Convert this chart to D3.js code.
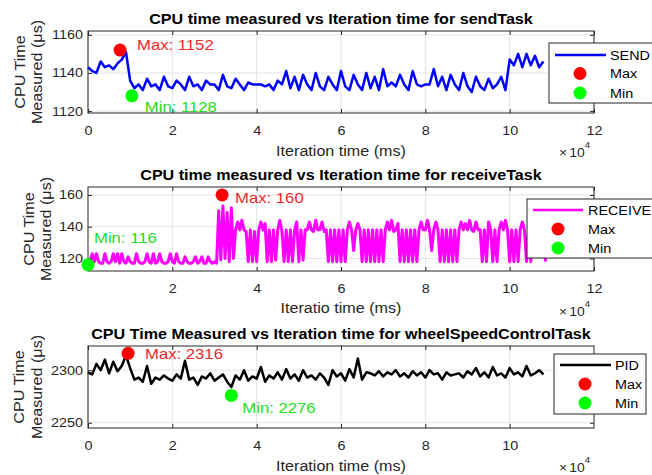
<!DOCTYPE html>
<head>
  <meta charset="utf-8">
  <script src="https://d3js.org/d3.v7.min.js"></script>
  <style>
body {
	margin: 0;
	background: #fff;
	}
text {
	font-family: "Liberation Sans", Arial, sans-serif;
	fill: #262626;
	}
.title {
	font-size: 14px;
	font-weight: bold;
	fill: #000;
	}
.tick text {
	font-size: 12.5px;
	}
.expo {
	font-size: 13px;
	}
.label {
	font-size: 14px;
	}
.note {
	font-size: 14.5px;
	}
.legText {
	font-size: 12.5px;
	fill: #000;
	}
  </style>
</head>

<body>
  <div id="graph"></div>
<script>
// Tick labels (x ticks are in units of 10^4 ms)
var sendXTicks = [0, 2, 4, 6, 8, 10, 12];
var receiveXTicks = [2, 4, 6, 8, 10, 12];
var pidXTicks = [0, 2, 4, 6, 8, 10];
var sendYTicks = [1120, 1140, 1160];
var receiveYTicks = [120, 140, 160];
var pidYTicks = [2250, 2300];

// CPU time measured (us), one sample every <step> ms of iteration time
var sendStep = 1000;
var sendValues = [
  1143, 1141, 1140, 1146, 1143, 1144, 1142, 1145, 1147, 1151,
  1136, 1132,
  1134, 1131, 1137, 1133, 1134, 1131, 1138, 1133, 1132, 1136,
  1134, 1131, 1138, 1133, 1134, 1131, 1136, 1134, 1134, 1131,
  1139, 1133, 1132, 1137, 1134, 1131, 1135, 1134, 1134, 1134,
  1133, 1134, 1131, 1136,
  1134, 1141, 1132, 1138, 1131, 1139, 1134, 1131, 1140, 1133,
  1131, 1138, 1134, 1131,
  1141, 1133, 1131, 1139, 1134, 1131, 1140, 1132, 1138, 1131,
  1142, 1133, 1135, 1133, 1139, 1134, 1131, 1141, 1134, 1133,
  1134, 1134, 1142, 1133, 1138, 1131, 1139, 1134, 1131, 1140,
  1133, 1130, 1138, 1133, 1131, 1137, 1132, 1134, 1138, 1131,
  1147, 1144, 1150, 1143, 1150, 1144, 1149, 1143, 1146
];

var receiveStep = 500;
var receiveValues = [
  116, 118, 123, 118, 123, 118, 117, 117, 123, 118,
  117, 118, 123, 118, 123, 117, 123, 118, 117, 121,
  118, 117, 117, 123, 118, 117, 117, 118, 123, 118,
  117, 123, 117, 118, 123, 118, 117, 117, 118, 123,
  118, 117, 123, 118, 117, 117, 121, 118, 117, 117,
  118, 121, 117, 118, 121, 117, 117, 121, 118, 117,
  118, 117,
  150, 119, 153, 120, 149, 118, 152, 120,
  138, 143, 138, 144, 138, 137,
  118, 138, 118, 137, 118,
  138, 143, 138, 142,
  118, 138, 118, 138, 119,
  138, 144, 137,
  118, 138, 118, 138, 118,
  138, 143,
  118, 138, 119, 138,
  138, 143, 138, 137, 144, 138, 138, 143, 137, 138,
  118, 138, 118, 138, 118, 138, 118, 138, 118,
  138, 143, 138, 125, 138, 142, 138,
  118, 138, 118, 138, 118, 138, 118, 138, 118, 138, 118, 138,
  143, 138, 144, 137, 138, 142,
  118, 138, 118, 138, 118, 138, 118, 138, 118, 138,
  143, 138, 138, 144, 138, 125, 138, 143, 138,
  118, 138, 118, 138, 118, 138, 118, 138, 118, 138,
  143, 138, 142, 138, 144, 138, 137, 143, 138, 138,
  118, 138, 118,
  143, 138,
  118, 138, 118, 138,
  143, 138, 144, 138,
  118, 138, 118, 138, 118, 138,
  143, 138,
  118, 138, 118,
  138, 142, 138, 137, 143, 138, 118
];

var pidStep = 1000;
var pidValues = [
  2298, 2296, 2306, 2300, 2310, 2297, 2308, 2299, 2304, 2314, 2302,
  2291, 2293, 2289, 2304, 2287, 2293, 2291, 2295, 2292, 2290,
  2296, 2292, 2309, 2291, 2293, 2286, 2294, 2292, 2297, 2290,
  2293, 2296, 2289, 2284,
  2295, 2291, 2300, 2290, 2294, 2292, 2303, 2289, 2295, 2292,
  2298, 2291, 2301, 2292, 2296, 2290, 2300, 2293, 2295, 2291,
  2297, 2293,
  2286, 2300, 2294, 2297, 2290, 2301, 2293, 2311, 2291, 2298,
  2297, 2295, 2299, 2294, 2298, 2296, 2300, 2294, 2297, 2293,
  2299, 2295, 2298, 2293, 2300, 2296, 2297, 2291, 2298, 2295,
  2296, 2297, 2293, 2299, 2296, 2302, 2294, 2298, 2293, 2303,
  2295, 2297, 2293, 2302, 2296, 2298, 2294, 2304, 2295, 2297,
  2300, 2296
];

// [iteration time (ms), CPU time (us)]
var sendMax = [7600, 1152], sendMin = [10400, 1128];
var receiveMax = [31800, 160], receiveMin = [0, 116];
var pidMax = [9500, 2316], pidMin = [34000, 2276];

var width = 652, height = 475;
var left = 88, right = 594;
var stretchK = 1.15;

var panels = [
  {title: "CPU time measured vs Iteration time for sendTask", xlabel: "Iteration time (ms)",
   name: "SEND", color: "#0000ff", lineWidth: 2.5, values: sendValues, step: sendStep,
   xTicks: sendXTicks, yTicks: sendYTicks, yDomain: [1119, 1162], max: sendMax, min: sendMin,
   top: 31, bottom: 113, titleY: 24, xlabelY: 156, expY: 157, ylabelX: [25, 42],
   maxOff: [17, 0], minOff: [13, 16],
   legend: {x: 549, y: 43, w: 120, h: 60, x1: 555, x2: 606, mx: 580, tx: 610, rows: [55, 73.5, 93]}},
  {title: "CPU time measured vs Iteration time for receiveTask", xlabel: "Iteratio time (ms)",
   name: "RECEIVE", color: "#ff00ff", lineWidth: 3, values: receiveValues, step: receiveStep,
   xTicks: receiveXTicks, yTicks: receiveYTicks, yDomain: [112.1, 165], max: receiveMax, min: receiveMin,
   top: 187, bottom: 271, titleY: 180, xlabelY: 313, expY: 316, ylabelX: [34, 51],
   maxOff: [13, 8], minOff: [6, -21.5],
   legend: {x: 527, y: 199, w: 140, h: 59, x1: 533, x2: 583, mx: 558, tx: 588, rows: [210, 229, 248]}},
  {title: "CPU Time Measured vs Iteration time for wheelSpeedControlTask", xlabel: "Iteration time (ms)",
   name: "PID", color: "#000000", lineWidth: 2.5, values: pidValues, step: pidStep,
   xTicks: pidXTicks, yTicks: pidYTicks, yDomain: [2245, 2323], max: pidMax, min: pidMin,
   top: 346, bottom: 428, titleY: 339, xlabelY: 471, expY: 472, ylabelX: [24, 42],
   maxOff: [17, 5.6], minOff: [11, 18],
   legend: {x: 554, y: 354, w: 92, h: 60, x1: 560, x2: 611, mx: 585, tx: 615, rows: [365, 384, 403]}}
];

var svg = d3.select("#graph")
  .append("svg")
  .attr("width", width)
  .attr("height", height);

panels.forEach(function(p) {
  var x = d3.scaleLinear().domain([0, 120000]).range([left, right]);
  var y = d3.scaleLinear().domain(p.yDomain).range([p.bottom, p.top]);
  var g = svg.append("g");
  var xt = p.xTicks.map(function(d) { return d * 1e4; });

  // grid
  g.selectAll(".gx").data(xt).enter().append("line")
    .attr("x1", function(d) { return x(d); }).attr("x2", function(d) { return x(d); })
    .attr("y1", p.top).attr("y2", p.bottom)
    .style("stroke", "#e3e3e3");
  g.selectAll(".gy").data(p.yTicks).enter().append("line")
    .attr("x1", left).attr("x2", right)
    .attr("y1", function(d) { return y(d); }).attr("y2", function(d) { return y(d); })
    .style("stroke", "#e3e3e3");

  // the series
  var line = d3.line()
    .x(function(d, i) { return x(i * p.step); })
    .y(function(d) { return y(d); });
  g.append("path")
    .datum(p.values)
    .attr("d", line)
    .attr("fill", "none")
    .attr("stroke", p.color)
    .attr("stroke-width", p.lineWidth)
    .attr("stroke-linejoin", "round");

  // box and axes (ticks pointing inward)
  g.append("rect")
    .attr("x", left).attr("y", p.top)
    .attr("width", right - left).attr("height", p.bottom - p.top)
    .attr("fill", "none").style("stroke", "#262626");

  g.append("g")
    .attr("transform", "translate(0," + p.bottom + ")")
    .call(d3.axisBottom(x).tickValues(xt).tickFormat(function(d) { return d / 1e4; })
      .tickSizeInner(-4).tickSizeOuter(0).tickPadding(13));
  g.append("g")
    .attr("transform", "translate(0," + p.top + ")")
    .call(d3.axisTop(x).tickValues(xt).tickFormat("").tickSizeInner(-4).tickSizeOuter(0));
  g.append("g")
    .attr("transform", "translate(" + left + ",0)")
    .call(d3.axisLeft(y).tickValues(p.yTicks).tickFormat(d3.format("d"))
      .tickSizeInner(-4).tickSizeOuter(0).tickPadding(5));
  g.append("g")
    .attr("transform", "translate(" + right + ",0)")
    .call(d3.axisRight(y).tickValues(p.yTicks).tickFormat("").tickSizeInner(-4).tickSizeOuter(0));
  g.selectAll(".domain").remove();
  g.selectAll(".tick line").style("stroke", "#262626");
  g.selectAll(".tick text").style("fill", "#262626").attr("font-family", null).attr("font-size", null);

  // titles and labels
  g.append("text").attr("class", "title")
    .attr("x", (left + right) / 2).attr("y", p.titleY)
    .style("text-anchor", "middle").text(p.title);
  g.append("text").attr("class", "label")
    .attr("x", (left + right) / 2).attr("y", p.xlabelY)
    .style("text-anchor", "middle").text(p.xlabel);
  var ex = g.append("text").attr("class", "expo")
    .attr("x", 559).attr("y", p.expY);
  ex.append("tspan").text("×");
  ex.append("tspan").attr("dx", 2).text("10");
  ex.append("tspan").attr("dy", -9).style("font-size", "9px").text("4");
  ["CPU Time", "Measured (μs)"].forEach(function(t, i) {
    g.append("text").attr("class", "label")
      .attr("transform", "translate(" + p.ylabelX[i] + "," + (p.top + p.bottom) / 2 + ") rotate(-90)")
      .style("text-anchor", "middle").text(t);
  });

  // max / min markers with their notes
  g.append("circle").attr("cx", x(p.max[0])).attr("cy", y(p.max[1])).attr("r", 6.5).attr("fill", "#ff0000");
  g.append("circle").attr("cx", x(p.min[0])).attr("cy", y(p.min[1])).attr("r", 6.5).attr("fill", "#00ff00");
  g.append("text").attr("class", "note").style("fill", "#e8292b")
    .attr("x", x(p.max[0]) + p.maxOff[0]).attr("y", y(p.max[1]) + p.maxOff[1])
    .text("Max: " + p.max[1]);
  g.append("text").attr("class", "note").style("fill", "#22dd22")
    .attr("x", x(p.min[0]) + p.minOff[0]).attr("y", y(p.min[1]) + p.minOff[1])
    .text("Min: " + p.min[1]);

  // legend
  var L = p.legend;
  g.append("rect").attr("x", L.x).attr("y", L.y).attr("width", L.w).attr("height", L.h)
    .attr("fill", "#fff").style("stroke", "#262626");
  g.append("line").attr("x1", L.x1).attr("x2", L.x2).attr("y1", L.rows[0]).attr("y2", L.rows[0])
    .style("stroke", p.color).style("stroke-width", 2.5);
  g.append("circle").attr("cx", L.mx).attr("cy", L.rows[1]).attr("r", 6.5).attr("fill", "#ff0000");
  g.append("circle").attr("cx", L.mx).attr("cy", L.rows[2]).attr("r", 6.5).attr("fill", "#00ff00");
  [p.name, "Max", "Min"].forEach(function(t, i) {
    g.append("text").attr("class", "legText")
      .attr("x", L.tx).attr("y", L.rows[i] + 4.5).text(t);
  });
});

// the picture is a bit wider than tall: widen every text the same way
svg.selectAll("text").each(function() {
  var w = this.getComputedTextLength();
  if (w > 0) d3.select(this).attr("textLength", w * stretchK).attr("lengthAdjust", "spacingAndGlyphs");
});
</script>
</body>
